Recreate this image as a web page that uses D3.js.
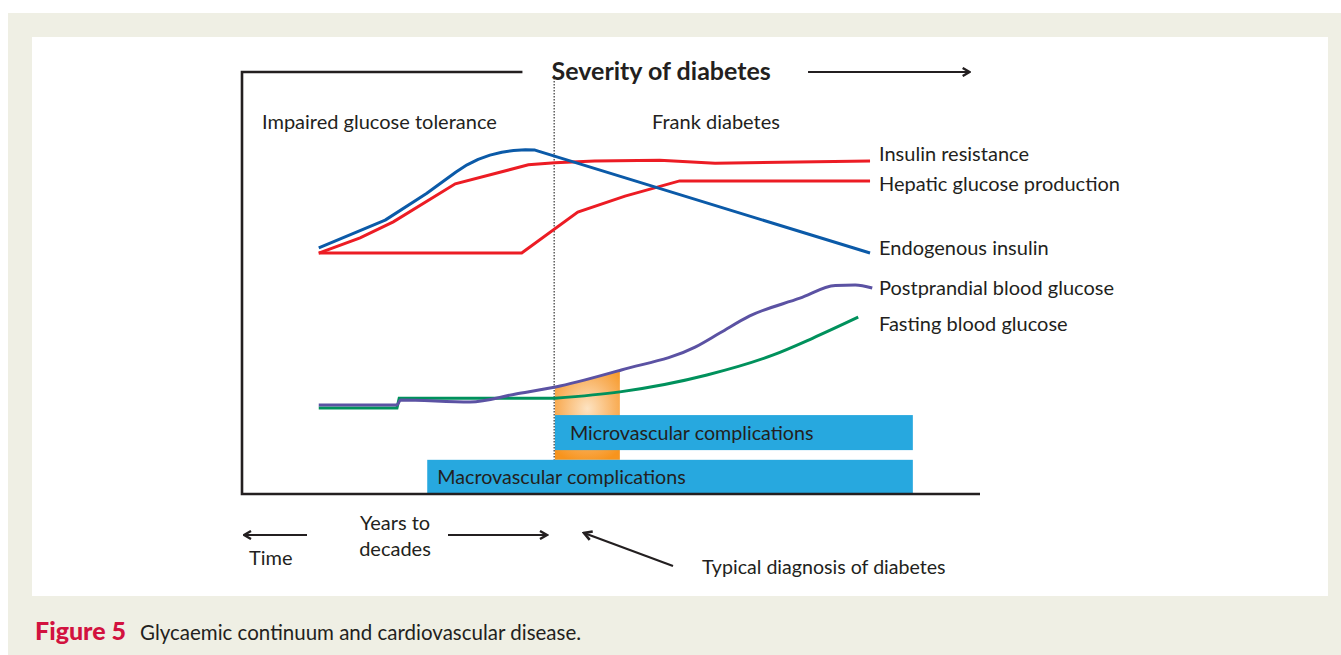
<!DOCTYPE html>
<html><head><meta charset="utf-8">
<script src="https://cdn.jsdelivr.net/npm/d3@7"></script>
<style>body{margin:0;background:#fff}svg{display:block}text{font-family:Lato,"Open Sans",sans-serif;fill:#231f20}</style>
</head><body><svg id="c" width="1341" height="655"></svg>
<script>
// ---- data (abstract units: x = time progression 0..100, y = severity 0..100) ----
const endogenousInsulin = [[10.4,58.3],[19.4,64.9],[25.0,71.2],[29.0,76.3],[30.5,78.0],[32.0,79.3],[33.6,80.3],[35.2,81.0],[36.8,81.4],[38.4,81.6],[39.7,81.5],[85.1,57.1]];
const insulinResistance = [[10.4,57.1],[16.0,60.7],[20.5,64.5],[28.9,73.5],[38.8,78.0],[42.4,78.5],[47.8,78.9],[56.6,79.1],[64.1,78.4],[85.1,78.9]];
const hepaticGlucose = [[10.4,57.1],[37.9,57.1],[45.5,66.8],[51.9,70.6],[59.3,74.2],[85.1,74.2]];
const postprandialGlucose = [[10.4,21.1],[21.0,21.1],[21.5,22.3],[30.9,21.8],[37.1,23.7],[43.1,25.6],[51.4,29.4],[61.4,34.8],[64.8,38.2],[68.8,42.2],[75.6,46.4],[80.4,49.4],[83.1,49.5],[85.4,48.8]];
const fastingGlucose = [[10.4,20.4],[21.0,20.4],[21.3,22.7],[42.4,22.7],[51.2,24.2],[63.0,28.2],[71.9,32.9],[77.3,36.9],[83.5,41.9]];
const seriesNames = ["Insulin resistance","Hepatic glucose production","Endogenous insulin","Postprandial blood glucose","Fasting blood glucose"];
const diagnosisX = 42.3;
const microBand = {x0:42.4, x1:90.9, y0:10.4, y1:18.7, label:"Microvascular complications"};
const macroBand = {x0:25.1, x1:90.9, y0:0, y1:8.1, label:"Macrovascular complications"};
const orangeBand = {x0:42.4, x1:51.2, y0:8.1};
const phaseLabels = ["Impaired glucose tolerance","Frank diabetes"];

// ---- drawing ----
const svg = d3.select("#c");
const ink = "#231f20";
// page background
svg.append("rect").attr("x",8).attr("y",13).attr("width",1333).attr("height",642).attr("fill","#efefe4");
svg.append("rect").attr("x",32).attr("y",37).attr("width",1296).attr("height",559).attr("fill","#ffffff");

const x = d3.scaleLinear().domain([0,100]).range([242,980]);
const y = d3.scaleLinear().domain([0,100]).range([494,72]);

const defs = svg.append("defs");
const mk = defs.append("marker").attr("id","arr").attr("viewBox","0 0 10 10").attr("refX",8.5).attr("refY",5)
  .attr("markerWidth",5).attr("markerHeight",5).attr("orient","auto-start-reverse").attr("markerUnits","strokeWidth");
mk.append("path").attr("d","M1.5,1 L8.5,5 L1.5,9").attr("fill","none").attr("stroke",ink).attr("stroke-width",2.4).attr("stroke-linejoin","miter");

const rg = defs.append("radialGradient").attr("id","og").attr("cx","0.5").attr("cy","0.62").attr("r","0.75")
  .attr("gradientUnits","objectBoundingBox").attr("gradientTransform","translate(0.5,0.62) scale(1,0.55) translate(-0.5,-0.62)");
rg.append("stop").attr("offset","0").attr("stop-color","#fde3c2");
rg.append("stop").attr("offset","0.55").attr("stop-color","#f9b465");
rg.append("stop").attr("offset","1").attr("stop-color","#f7941d");

const line = d3.line().x(d=>x(d[0])).y(d=>y(d[1]));
const smooth = d3.line().x(d=>x(d[0])).y(d=>y(d[1])).curve(d3.curveMonotoneX);

// orange band clipped under postprandial curve
defs.append("clipPath").attr("id","under").append("path")
  .attr("d", d3.area().x(d=>x(d[0])).y0(y(0)).y1(d=>y(d[1])).curve(d3.curveMonotoneX)(postprandialGlucose));
svg.append("rect").attr("clip-path","url(#under)")
  .attr("x",x(orangeBand.x0)).attr("width",x(orangeBand.x1)-x(orangeBand.x0))
  .attr("y",y(40)).attr("height",y(orangeBand.y0)-y(40)).attr("fill","url(#og)");

// dotted diagnosis line
svg.append("line").attr("x1",x(diagnosisX)).attr("x2",x(diagnosisX)).attr("y1",y(99.3)).attr("y2",y(orangeBand.y0))
  .attr("stroke","#444").attr("stroke-width",1.3).attr("stroke-dasharray","1.5,1.5");

// bands
[microBand, macroBand].forEach(b=>{
  svg.append("rect").attr("x",x(b.x0)).attr("y",y(b.y1)).attr("width",x(b.x1)-x(b.x0)).attr("height",y(b.y0)-y(b.y1)).attr("fill","#27a8df");
  svg.append("text").attr("x",x(b.x0)+(b===microBand?15:10)).attr("y",(y(b.y0)+y(b.y1))/2).attr("dy","0.36em")
    .attr("font-size",19.7).text(b.label);
});

// curves
svg.append("path").attr("d",line(insulinResistance)).attr("fill","none").attr("stroke","#ec1c24").attr("stroke-width",3);
svg.append("path").attr("d",line(hepaticGlucose)).attr("fill","none").attr("stroke","#ec1c24").attr("stroke-width",3);
svg.append("path").attr("d",line(endogenousInsulin)).attr("fill","none").attr("stroke","#0b5aa8").attr("stroke-width",3).attr("stroke-linejoin","round");
svg.append("path").attr("d",line(fastingGlucose.slice(0,4))+"L"+smooth(fastingGlucose.slice(3)).slice(1)).attr("fill","none").attr("stroke","#00915c").attr("stroke-width",3);
svg.append("path").attr("d",smooth(postprandialGlucose)).attr("fill","none").attr("stroke","#5b52a3").attr("stroke-width",3);

// frame
svg.append("path").attr("d",`M${x(38.0)},${y(100)}H${x(0)}V${y(0)}H${x(100)}`).attr("fill","none").attr("stroke",ink).attr("stroke-width",2.6);
svg.append("line").attr("x1",x(76.7)).attr("x2",x(98.6)).attr("y1",y(100)).attr("y2",y(100)).attr("stroke",ink).attr("stroke-width",2).attr("marker-end","url(#arr)");
svg.append("text").attr("x",x(56.8)).attr("y",y(100)).attr("dy","0.3em").attr("text-anchor","middle")
  .attr("font-size",25).attr("font-weight","bold").style("font-family","'Liberation Sans Narrow',Lato,sans-serif").text("Severity of diabetes");

// phase labels
svg.append("text").attr("x",262).attr("y",122).attr("dy","0.36em").attr("font-size",20).text(phaseLabels[0]);
svg.append("text").attr("x",652).attr("y",122).attr("dy","0.36em").attr("font-size",20).text(phaseLabels[1]);

// series labels
const labelY = [154,184,248,288,324];
seriesNames.forEach((n,i)=>{
  svg.append("text").attr("x",879).attr("y",labelY[i]).attr("dy","0.36em").attr("font-size",20).text(n);
});

// bottom annotations
svg.append("line").attr("x1",307).attr("x2",244).attr("y1",535).attr("y2",535).attr("stroke",ink).attr("stroke-width",2).attr("marker-end","url(#arr)");
svg.append("line").attr("x1",448).attr("x2",547).attr("y1",535).attr("y2",535).attr("stroke",ink).attr("stroke-width",2).attr("marker-end","url(#arr)");
svg.append("line").attr("x1",673).attr("x2",584).attr("y1",566).attr("y2",533).attr("stroke",ink).attr("stroke-width",2.2).attr("marker-end","url(#arr)");
svg.append("text").attr("x",395).attr("y",523).attr("dy","0.36em").attr("text-anchor","middle").attr("font-size",20).text("Years to");
svg.append("text").attr("x",395).attr("y",549).attr("dy","0.36em").attr("text-anchor","middle").attr("font-size",20).text("decades");
svg.append("text").attr("x",249).attr("y",558).attr("dy","0.36em").attr("font-size",20).text("Time");
svg.append("text").attr("x",702).attr("y",567).attr("dy","0.36em").attr("font-size",19.6).text("Typical diagnosis of diabetes");

// caption
const cap = svg.append("text").attr("x",35).attr("y",633).attr("dy","0.36em").attr("font-size",20.5);
cap.append("tspan").attr("font-weight","900").attr("font-size",25).style("fill","#d2123f").text("Figure 5");
cap.append("tspan").attr("x",140).text("Glycaemic continuum and cardiovascular disease.");
</script></body></html>
